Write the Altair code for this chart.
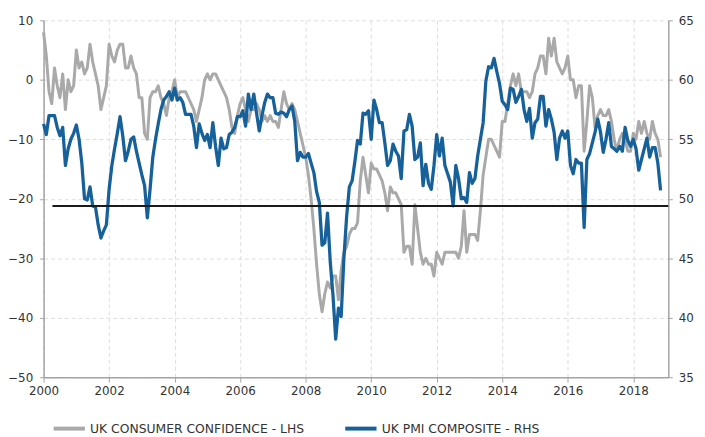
import altair as alt
import pandas as pd

# ---------------- data (monthly, Jan 2000 - Nov 2018) ----------------
series_names = ["UK CONSUMER CONFIDENCE - LHS", "UK PMI COMPOSITE - RHS"]
series_colors = ["#a9a9a9", "#17619a"]

# UK consumer confidence (LHS)
cc_2000 = [8, 4, -2, -4, 2, -1, -3, 1, -5, 0, -2, -1]
cc_2001 = [5, 2, 3, 1, 2, 6, 3, 1, -1, -5, -3, -1]
cc_2002 = [6, 4, 3, 5, 6, 6, 2, 2, 4, 2, 1, -3]
cc_2003 = [-3, -9, -10, -3, -2, -2, -1, -3, -4, -6, -3, -2]
cc_2004 = [0, -3, -2, -2, -2, -3, -4, -5, -7, -5, -3, 0]
cc_2005 = [1, 0, 1, 1, 0, -1, -2, -3, -5, -8, -9, -6]
cc_2006 = [-4, -3, -5, -7, -5, -5, -4, -5, -7, -6, -7, -6]
cc_2007 = [-7, -7, -8, -5, -2, -4, -5, -4, -5, -7, -9, -11]
cc_2008 = [-13, -16, -20, -25, -31, -36, -39, -36, -34, -35, -33, -33]
cc_2009 = [-37, -32, -29, -28, -26, -25, -25, -24, -17, -13, -16, -19]
cc_2010 = [-14, -15, -15, -16, -17, -19, -22, -18, -19, -19, -20, -21]
cc_2011 = [-29, -28, -28, -31, -21, -25, -29, -31, -30, -31, -31, -33]
cc_2012 = [-29, -30, -31, -29, -29, -29, -29, -29, -30, -28, -22, -29]
cc_2013 = [-26, -26, -26, -27, -22, -16, -13, -10, -10, -11, -12, -13]
cc_2014 = [-7, -7, -4, -1, 1, -1, 1, -2, -2, -2, -3, -2]
cc_2015 = [1, 2, 4, 4, 1, 7, 4, 7, 3, 2, 1, 2]
cc_2016 = [4, 0, 0, -3, -1, -1, -12, -7, -1, -3, -8, -6]
cc_2017 = [-5, -6, -6, -5, -7, -10, -12, -10, -9, -10, -12, -12]
cc_2018 = [-9, -10, -7, -9, -7, -9, -10, -7, -9, -10, -13]

# UK PMI composite (RHS)
pmi_2000 = [56.3, 55.4, 57, 57, 57, 56, 55.3, 56, 52.8, 54.2, 55, 55.5]
pmi_2001 = [56.2, 55, 53, 50, 49.9, 51, 49.4, 49.3, 47.8, 46.7, 47.3, 47.8]
pmi_2002 = [50.8, 52.8, 54.2, 55.5, 56.9, 55.3, 53.2, 54, 55, 55.2, 54, 53]
pmi_2003 = [52, 51.1, 48.4, 50.8, 53.5, 55, 56.3, 57.5, 58.3, 58.6, 59, 58.3]
pmi_2004 = [59.3, 58.3, 58.5, 58.1, 57.1, 57.1, 57.1, 56.1, 54.3, 56.3, 55.5, 54.9]
pmi_2005 = [55.4, 54.3, 56.4, 54.4, 52.8, 55.1, 54.2, 54.3, 55.4, 55.6, 56, 56.9]
pmi_2006 = [56.9, 57.4, 56.1, 58.8, 57.5, 58.8, 57.2, 55.7, 57, 58.1, 58.8, 58.5]
pmi_2007 = [58.5, 57.2, 57.1, 57.3, 57.2, 56.9, 57.5, 57.8, 56.5, 53.2, 53.9, 53.5]
pmi_2008 = [53.5, 53.8, 53, 52.2, 50.6, 49.7, 46.1, 46.3, 48.8, 44.7, 41.9, 38.2]
pmi_2009 = [40.8, 40.1, 45, 48.5, 51, 51.5, 53.1, 54.9, 54.6, 57.2, 57.1, 57.4]
pmi_2010 = [55, 58.3, 57.5, 56.4, 56.4, 54.7, 52.8, 53.2, 54.6, 54, 53.6, 51.7]
pmi_2011 = [55.7, 55.8, 57.1, 56.1, 53.3, 53.5, 54.7, 51.1, 52.9, 51.3, 50.8, 52.8]
pmi_2012 = [55.4, 53.6, 55.1, 52.8, 52.1, 51.4, 49.4, 52.8, 51.7, 50, 50.1, 49.7]
pmi_2013 = [52.2, 51.3, 51.7, 53.6, 55, 56.4, 59.9, 61.1, 61, 61.8, 60.7, 59.7]
pmi_2014 = [58.2, 57.9, 57.5, 59.3, 59.2, 58.1, 58.6, 59.2, 57.5, 56.5, 57.6, 55.1]
pmi_2015 = [56.4, 56.7, 58.6, 58.6, 56.1, 57.5, 56.7, 55.6, 53.3, 55.1, 55.7, 55.1]
pmi_2016 = [55.7, 52.8, 52.1, 53.3, 53, 53, 47.6, 53.3, 53.8, 54.7, 55.6, 56.7]
pmi_2017 = [55.6, 53.9, 55, 56.4, 54.4, 54.2, 54, 54.4, 54, 56, 54.9, 54.4]
pmi_2018 = [55, 54.2, 52.4, 53.3, 54.2, 55.1, 53.5, 54.3, 54.3, 53, 50.7]

# horizontal reference line (RHS units) and its extent in years
ref_level = 49.4
ref_start = 2000.27
ref_end = 2019.07

x_domain = [2000, 2019.07]
x_ticks = [2000, 2002, 2004, 2006, 2008, 2010, 2012, 2014, 2016, 2018]
lhs_ticks = [-50, -40, -30, -20, -10, 0, 10]
rhs_ticks = [35, 40, 45, 50, 55, 60, 65]

# ---------------- tables ----------------
cc_values = (cc_2000 + cc_2001 + cc_2002 + cc_2003 + cc_2004 + cc_2005 + cc_2006
             + cc_2007 + cc_2008 + cc_2009 + cc_2010 + cc_2011 + cc_2012 + cc_2013
             + cc_2014 + cc_2015 + cc_2016 + cc_2017 + cc_2018)
pmi_values = (pmi_2000 + pmi_2001 + pmi_2002 + pmi_2003 + pmi_2004 + pmi_2005 + pmi_2006
              + pmi_2007 + pmi_2008 + pmi_2009 + pmi_2010 + pmi_2011 + pmi_2012 + pmi_2013
              + pmi_2014 + pmi_2015 + pmi_2016 + pmi_2017 + pmi_2018)

cc_df = pd.DataFrame({
    "t": [2000 + i / 12 for i in range(len(cc_values))],
    "value": cc_values,
    "series": series_names[0],
})
pmi_df = pd.DataFrame({
    "t": [2000 + i / 12 for i in range(len(pmi_values))],
    "value": pmi_values,
    "series": series_names[1],
})
ref_df = pd.DataFrame({"t": [ref_start, ref_end], "value": [ref_level, ref_level]})

# ---------------- styling ----------------
FONT = "DejaVu Sans"
AXIS_GREY = "#a3a3a3"
LABEL = "#333333"

x_axis = alt.Axis(values=x_ticks, format="d", title=None, grid=True,
                  gridColor="#dedede", gridDash=[4, 3], gridWidth=1,
                  domainColor=AXIS_GREY, domainWidth=1.5, tickColor=AXIS_GREY,
                  tickSize=5, labelFont=FONT, labelFontSize=12, labelColor=LABEL,
                  labelPadding=4, labelFlush=False, labelOverlap=False)
x_enc = alt.X("t:Q", scale=alt.Scale(domain=x_domain, nice=False, zero=False), axis=x_axis)

lhs_axis = alt.Axis(orient="left", values=lhs_ticks, title=None, grid=True,
                    gridColor="#dedede", gridDash=[4, 3], gridWidth=1,
                    domainColor=AXIS_GREY, domainWidth=1.5, tickColor=AXIS_GREY,
                    tickSize=4, labelFont=FONT, labelFontSize=12, labelColor=LABEL,
                    labelPadding=7, labelFlush=False, labelOverlap=False)
rhs_axis = alt.Axis(orient="right", values=rhs_ticks, title=None, grid=False,
                    domainColor=AXIS_GREY, domainWidth=1.5, tickColor=AXIS_GREY,
                    tickSize=4, labelFont=FONT, labelFontSize=12, labelColor=LABEL,
                    labelPadding=6, labelFlush=False, labelOverlap=False)
rhs_scale = alt.Scale(domain=[35, 65], nice=False, zero=False)

color_enc = alt.Color(
    "series:N",
    scale=alt.Scale(domain=series_names, range=series_colors),
    legend=alt.Legend(orient="none", legendX=8, legendY=395, direction="horizontal",
                      title=None, symbolType="stroke", symbolStrokeWidth=4,
                      symbolSize=1000, labelFont=FONT, labelFontSize=12.5,
                      labelColor=LABEL, columnPadding=33, labelOffset=3,
                      labelLimit=400, padding=0),
)

grey = alt.Chart(cc_df).mark_line(strokeWidth=3, strokeJoin="round").encode(
    x=x_enc,
    y=alt.Y("value:Q", scale=alt.Scale(domain=[-50, 10], nice=False, zero=False), axis=lhs_axis),
    color=color_enc,
)
blue = alt.Chart(pmi_df).mark_line(strokeWidth=3.3, strokeJoin="round").encode(
    x=x_enc,
    y=alt.Y("value:Q", scale=rhs_scale, axis=rhs_axis),
    color=color_enc,
)
ref = alt.Chart(ref_df).mark_line(color="#1a1a1a", strokeWidth=2).encode(
    x=x_enc,
    y=alt.Y("value:Q", scale=rhs_scale, axis=rhs_axis),
)

chart = alt.layer(grey, alt.layer(blue, ref)).resolve_scale(y="independent").properties(
    width=632, height=361,
    padding={"left": 36, "top": 10, "right": 29, "bottom": 58},
    autosize=alt.AutoSizeParams(type="none"),
).configure_view(strokeWidth=0)

chart.save("out.html", embed_options={"renderer": "svg", "actions": False})
